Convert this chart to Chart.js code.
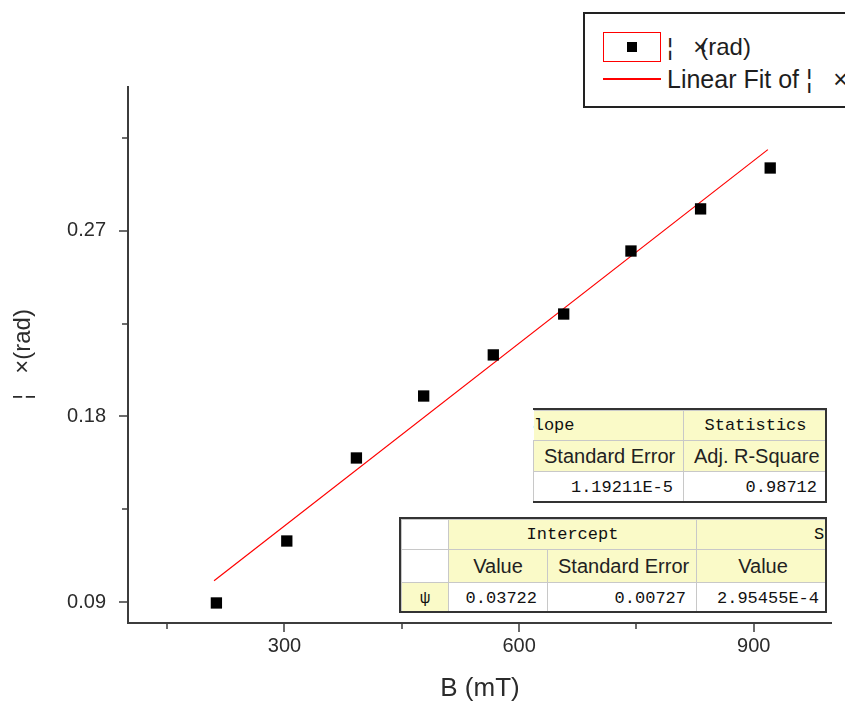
<!DOCTYPE html>
<html>
<head>
<meta charset="utf-8">
<script src="https://cdn.jsdelivr.net/npm/chart.js"></script>
<style>
  body { margin: 0; background: #fff; }
  #wrap { position: relative; width: 845px; height: 704px; overflow: hidden; font-family: "Liberation Sans", Arial, sans-serif; }
  #c { position: absolute; left: 0; top: 0; }

  /* legend box (cut by the right edge, like the original) */
  #legend { position: absolute; left: 583px; top: 12px; width: 320px; height: 92px; border: 2px solid #222; background: #fff; }
  #legend .sym { position: absolute; left: 18px; top: 18px; width: 56px; height: 28px; border: 1.5px solid #f00; }
  #legend .sym i { position: absolute; left: 23px; top: 9px; width: 10px; height: 10px; background: #000; }
  #legend .ln { position: absolute; left: 18px; top: 64px; width: 58px; height: 1.5px; background: #f00; }
  #legend .txt { position: absolute; left: 82px; font-size: 24px; color: #1e1e1e; white-space: nowrap; line-height: 28px; }

  /* fit result tables */
  .tbox { position: absolute; overflow: hidden; background: #fff; }
  .tbox table { border-collapse: collapse; table-layout: fixed; }
  .tbox td { border: 1px solid #c8c8c8; padding: 0 10px; white-space: nowrap; overflow: visible; color: #222; font-size: 20px; }
  .tbox td.y { background: #fafac8; text-align: center; }
  .tbox td.m { font-family: "Liberation Mono", monospace; font-size: 17px; color: #111; }
  .tbox td.n { text-align: right; font-family: "Liberation Mono", monospace; font-size: 17px; color: #111; }
  #t1 { left: 533px; top: 408px; width: 292px; height: 91px; border-top: 2px solid #333; border-right: 2px solid #333; border-bottom: 2px solid #333; }
  #t2 { left: 399px; top: 517px; width: 424px; height: 92px; border: 2px solid #333; }
</style>
</head>
<body>
<div id="wrap">
  <canvas id="c" width="845" height="704"></canvas>

  <div id="legend">
    <div class="sym"><i></i></div>
    <div class="txt" style="top:19px">¦&nbsp;&nbsp; <span style="margin-right:-7px">×</span>(rad)</div>
    <div class="ln"></div>
    <div class="txt" style="top:51px;font-size:25px">Linear Fit of ¦&nbsp;&nbsp; ×</div>
  </div>

  <div class="tbox" id="t1">
    <table style="width:294px">
      <colgroup><col style="width:150px"><col style="width:144px"></colgroup>
      <tr style="height:30px">
        <td class="y m" style="text-align:left;padding-left:0;border-left:none"><span style="margin-left:-10px">Slope</span></td>
        <td class="y m">Statistics</td>
      </tr>
      <tr style="height:31px"><td class="y">Standard Error</td><td class="y">Adj. R-Square</td></tr>
      <tr style="height:31px"><td class="n">1.19211E-5</td><td class="n">0.98712</td></tr>
    </table>
  </div>

  <div class="tbox" id="t2">
    <table style="width:428px">
      <colgroup><col style="width:47px"><col style="width:99px"><col style="width:149px"><col style="width:133px"></colgroup>
      <tr style="height:30px">
        <td></td>
        <td class="y m" colspan="2">Intercept</td>
        <td class="y m" style="text-align:left;padding-left:0"><span style="margin-left:117px">Slope</span></td>
      </tr>
      <tr style="height:33px"><td></td><td class="y">Value</td><td class="y">Standard Error</td><td class="y">Value</td></tr>
      <tr style="height:31px"><td class="y m">ψ</td><td class="n">0.03722</td><td class="n">0.00727</td><td class="n">2.95455E-4</td></tr>
    </table>
  </div>
</div>

<script>
// measured points: magnetic field B (mT) vs rotation angle (rad)
const bField = [213, 303, 392, 478, 567, 657, 743, 832, 921];
const angle = [0.0897, 0.1197, 0.1599, 0.1899, 0.2098, 0.2296, 0.2601, 0.2805, 0.3003];

// linear fit line, end points
const fitB = [210, 918];
const fitAngle = [0.1005, 0.3092];

// axes
const xRange = [100, 1000];
const yRange = [0.08, 0.34];
const xMajorTicks = [300, 600, 900];
const xMinorTicks = [150, 450, 750];
const yMajorTicks = [0.09, 0.18, 0.27];
const yMinorTicks = [0.135, 0.225, 0.315];

const FONT = '"Liberation Sans", Arial, sans-serif';

// origin style axis lines with outward ticks
const originAxes = {
    id: 'originAxes',
    beforeDatasetsDraw(chart) {
        const { ctx, chartArea: a, scales: { x, y } } = chart;
        ctx.save();
        ctx.strokeStyle = '#3c3c3c';
        ctx.lineWidth = 2;
        ctx.beginPath();
        ctx.moveTo(a.left, a.top);
        ctx.lineTo(a.left, a.bottom);
        ctx.lineTo(a.right, a.bottom);
        ctx.stroke();

        ctx.lineWidth = 1.5;
        ctx.beginPath();
        xMajorTicks.forEach(v => { const p = Math.round(x.getPixelForValue(v)); ctx.moveTo(p, a.bottom); ctx.lineTo(p, a.bottom + 9); });
        xMinorTicks.forEach(v => { const p = Math.round(x.getPixelForValue(v)); ctx.moveTo(p, a.bottom); ctx.lineTo(p, a.bottom + 6); });
        yMajorTicks.forEach(v => { const p = Math.round(y.getPixelForValue(v)); ctx.moveTo(a.left, p); ctx.lineTo(a.left - 9, p); });
        yMinorTicks.forEach(v => { const p = Math.round(y.getPixelForValue(v)); ctx.moveTo(a.left, p); ctx.lineTo(a.left - 6, p); });
        ctx.stroke();
        ctx.restore();
    }
};

new Chart(document.getElementById('c'), {
    type: 'scatter',
    data: {
        datasets: [
            {
                label: '¦ ×(rad)',
                data: bField.map((b, i) => ({ x: b, y: angle[i] })),
                pointStyle: 'rect',
                pointRadius: 8,
                backgroundColor: '#000',
                borderWidth: 0
            },
            {
                label: 'Linear Fit of ¦ ×',
                data: fitB.map((b, i) => ({ x: b, y: fitAngle[i] })),
                showLine: true,
                pointRadius: 0,
                borderColor: '#ff0000',
                borderWidth: 1.2
            }
        ]
    },
    options: {
        responsive: false,
        animation: false,
        devicePixelRatio: 1,
        layout: { padding: { top: 86, right: 13, left: 0, bottom: 0 } },
        plugins: { legend: { display: false }, tooltip: { enabled: false } },
        scales: {
            x: {
                type: 'linear',
                min: xRange[0],
                max: xRange[1],
                grid: { display: false, drawTicks: false },
                border: { display: false },
                afterBuildTicks: s => { s.ticks = xMajorTicks.map(v => ({ value: v })); },
                afterFit: s => { s.height = 81; },
                ticks: { font: { family: FONT, size: 20 }, color: '#2b2b2b', padding: 11, callback: v => String(v) },
                title: { display: true, text: 'B (mT)', font: { family: FONT, size: 26 }, color: '#2b2b2b', padding: { top: 0, bottom: 0 } }
            },
            y: {
                type: 'linear',
                min: yRange[0],
                max: yRange[1],
                grid: { display: false, drawTicks: false },
                border: { display: false },
                afterBuildTicks: s => { s.ticks = yMajorTicks.map(v => ({ value: v })); },
                afterFit: s => { s.width = 128; },
                ticks: { font: { family: FONT, size: 20 }, color: '#2b2b2b', padding: 22, callback: v => v.toFixed(2) },
                title: { display: true, text: '¦   ×(rad)', font: { family: FONT, size: 24 }, color: '#2b2b2b', padding: { top: 9, bottom: 0 } }
            }
        }
    },
    plugins: [originAxes]
});
</script>
</body>
</html>
